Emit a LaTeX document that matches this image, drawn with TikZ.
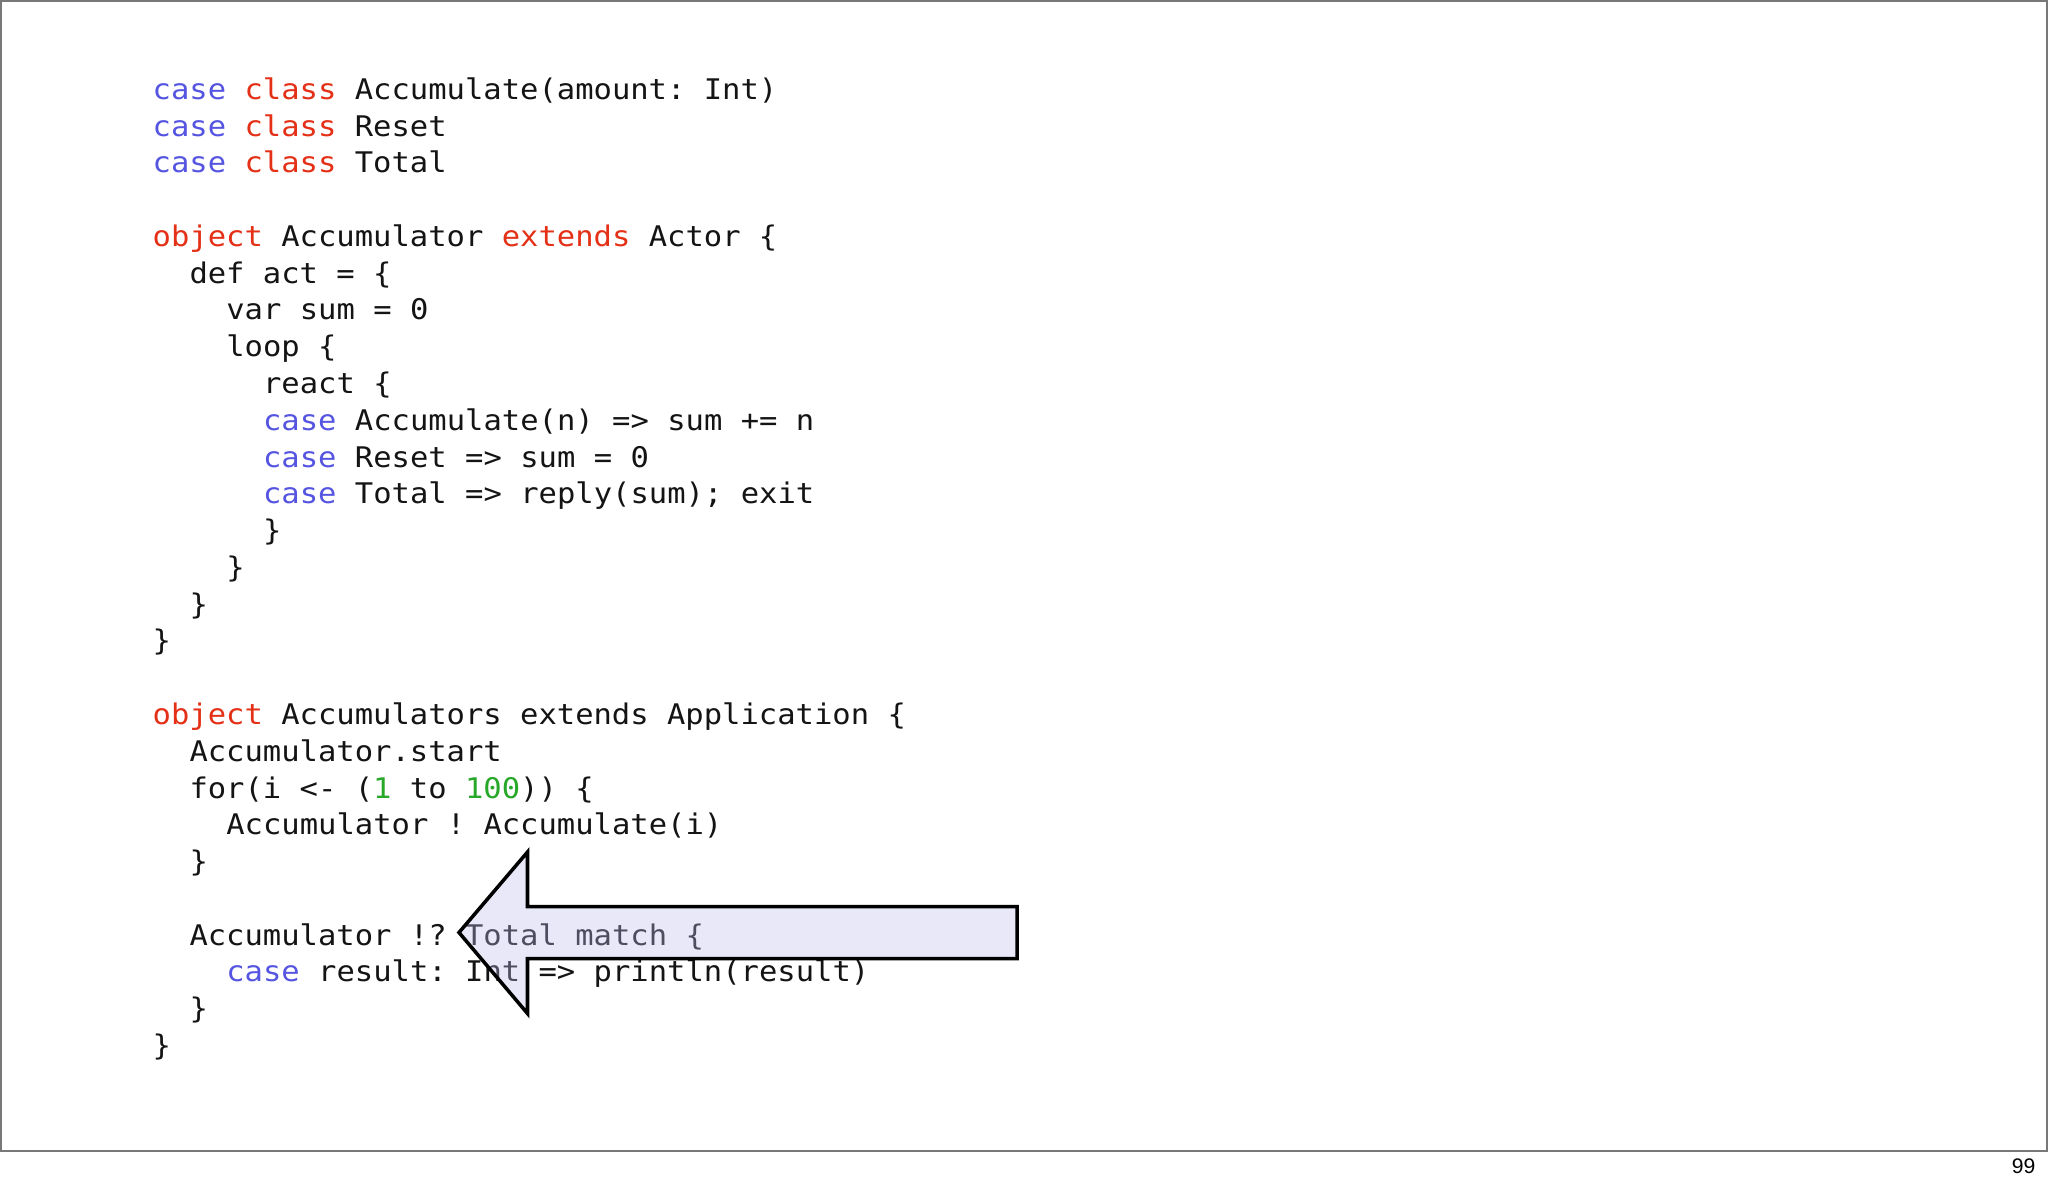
\documentclass[tikz,border=0pt]{standalone}
\usepackage{fontspec}
\newfontfamily\codefont[FakeStretch=1.074,WordSpace={1,0,0}]{DejaVu Sans Mono}
\newfontfamily\pagefont{Liberation Sans}
\definecolor{kwblue}{RGB}{85,85,225}
\definecolor{kwred}{RGB}{228,48,22}
\definecolor{kwgreen}{RGB}{40,168,40}
\definecolor{codeblack}{RGB}{20,20,20}
\definecolor{bordergray}{RGB}{120,120,120}
\definecolor{arrowfill}{RGB}{192,188,240}
\newcommand\kwB[1]{\textcolor{kwblue}{#1}}
\newcommand\kwR[1]{\textcolor{kwred}{#1}}
\newcommand\kwG[1]{\textcolor{kwgreen}{#1}}
\frenchspacing
\begin{document}
\begin{tikzpicture}[x=0.01cm,y=-0.01cm,
  code/.style={anchor=base west, inner sep=0pt, text=codeblack,
    font=\codefont\fontsize{8.08pt}{10pt}\selectfont\frenchspacing},
  callout/.style={draw=black, line width=1pt, line join=miter,
    fill=arrowfill, fill opacity=0.34}]
\useasboundingbox (0,0) rectangle (2048,1184);
\fill[white] (0,0) rectangle (2048,1184);
\draw[bordergray, line width=0.6pt] (1,1) rectangle (2047,1151);

\node[code] (l1)  at (152,99.3)   {\kwB{case} \kwR{class} Accumulate(amount: Int)};
\node[code] (l2)  at (152,136.1)  {\kwB{case} \kwR{class} Reset};
\node[code] (l3)  at (152,172.8)  {\kwB{case} \kwR{class} Total};
\node[code] (l5)  at (152,246.4)  {\kwR{object} Accumulator \kwR{extends} Actor \{};
\node[code] (l6)  at (188.8,283.1){def act = \{};
\node[code] (l7)  at (225.6,319.9){var sum = 0};
\node[code] (l8)  at (225.6,356.7){loop \{};
\node[code] (l9)  at (262.4,393.5){react \{};
\node[code] (l10) at (262.4,430.2){\kwB{case} Accumulate(n) => sum += n};
\node[code] (l11) at (262.4,467.0){\kwB{case} Reset => sum = 0};
\node[code] (l12) at (262.4,503.8){\kwB{case} Total => reply(sum); exit};
\node[code] (l13) at (262.4,540.5){\}};
\node[code] (l14) at (225.6,577.3){\}};
\node[code] (l15) at (188.8,614.1){\}};
\node[code] (l16) at (152,650.9)  {\}};
\node[code] (l18) at (152,724.4)  {\kwR{object} Accumulators extends Application \{};
\node[code] (l19) at (188.8,761.2){Accumulator.start};
\node[code] (l20) at (188.8,798.0){for(i <- (\kwG{1} to \kwG{100})) \{};
\node[code] (l21) at (225.6,834.7){Accumulator ! Accumulate(i)};
\node[code] (l22) at (188.8,871.5){\}};
\node[code] (l24) at (188.8,945.1){Accumulator !? Total match \{};
\node[code] (l25) at (225.6,981.8){\kwB{case} result: Int => println(result)};
\node[code] (l26) at (188.8,1018.6){\}};
\node[code] (l27) at (152,1055.4) {\}};

\path[callout] (459,932.5) -- (527.5,852) -- (527.5,906.5) -- (1017,906.5)
  -- (1017,958.5) -- (527.5,958.5) -- (527.5,1013.5) -- cycle;

\node[anchor=base east, inner sep=0pt, font=\pagefont\fontsize{6pt}{7pt}\selectfont] (pagenum) at (2036,1173) {99};
\end{tikzpicture}
\end{document}
